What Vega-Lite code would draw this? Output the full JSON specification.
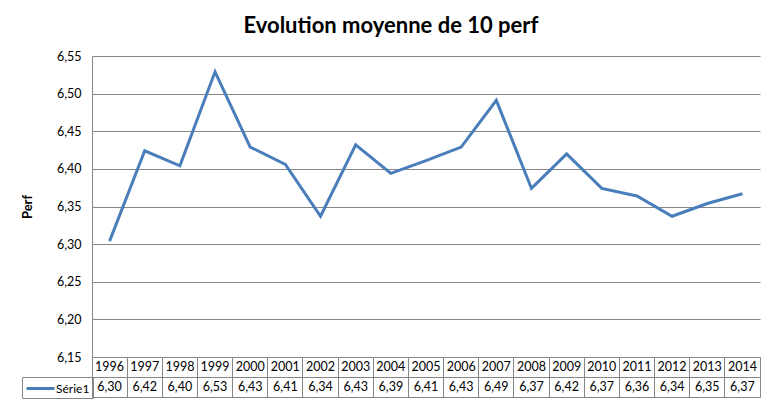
{
  "$schema": "https://vega.github.io/schema/vega-lite/v6.json",
  "background": "white",
  "padding": {"left": 21, "top": 15, "right": 14, "bottom": 6},
  "spacing": 0,
  "bounds": "flush",
  "title": {"text": "Evolution moyenne de 10 perf", "font": "Lato", "fontSize": 22, "fontWeight": "bold", "color": "#000000", "anchor": "middle", "frame": "bounds", "offset": 12},
  "config": {
    "locale": {"number": {"decimal": ",", "thousands": "\u00a0", "grouping": [3], "currency": ["", " €"]}},
    "font": "Lato",
    "legend": {"orient": "none", "legendX": -70, "legendY": 321, "title": null, "symbolType": "M-1,0H3", "symbolStrokeWidth": 3, "symbolSize": 196, "labelFont": "Lato", "labelFontSize": 12, "labelColor": "#000000", "padding": 3, "strokeColor": "#868686", "labelOffset": 14}
  },
  "data": {"values": [
    {"year": 1996, "perf": 6.304, "series": "Série1"},
    {"year": 1997, "perf": 6.424, "series": "Série1"},
    {"year": 1998, "perf": 6.404, "series": "Série1"},
    {"year": 1999, "perf": 6.529, "series": "Série1"},
    {"year": 2000, "perf": 6.429, "series": "Série1"},
    {"year": 2001, "perf": 6.406, "series": "Série1"},
    {"year": 2002, "perf": 6.337, "series": "Série1"},
    {"year": 2003, "perf": 6.432, "series": "Série1"},
    {"year": 2004, "perf": 6.394, "series": "Série1"},
    {"year": 2005, "perf": 6.411, "series": "Série1"},
    {"year": 2006, "perf": 6.429, "series": "Série1"},
    {"year": 2007, "perf": 6.491, "series": "Série1"},
    {"year": 2008, "perf": 6.374, "series": "Série1"},
    {"year": 2009, "perf": 6.42, "series": "Série1"},
    {"year": 2010, "perf": 6.374, "series": "Série1"},
    {"year": 2011, "perf": 6.364, "series": "Série1"},
    {"year": 2012, "perf": 6.337, "series": "Série1"},
    {"year": 2013, "perf": 6.354, "series": "Série1"},
    {"year": 2014, "perf": 6.367, "series": "Série1"}
  ]},
  "vconcat": [
    {
      "width": 668,
      "height": 301,
      "view": {"stroke": null},
      "mark": {"type": "line", "strokeWidth": 3},
      "encoding": {
        "x": {"field": "year", "type": "ordinal", "scale": {"type": "point", "padding": 0.5}, "axis": null},
        "y": {"field": "perf", "type": "quantitative",
          "scale": {"domain": [6.15, 6.55], "nice": false, "zero": false},
          "axis": {"values": [6.15, 6.2, 6.25, 6.3, 6.35, 6.4, 6.45, 6.5, 6.55], "format": ".2f", "title": "Perf",
            "titleFont": "Lato", "titleFontSize": 13, "titleFontWeight": "bold", "titleColor": "#000000", "titlePadding": 22,
            "labelFont": "Lato", "labelFontSize": 12.5, "labelColor": "#000000", "labelPadding": 11,
            "ticks": false, "domain": true, "domainColor": "#868686", "grid": true, "gridColor": "#868686", "gridOpacity": 1, "gridWidth": 1}},
        "color": {"field": "series", "type": "nominal", "scale": {"range": ["#4a7ebb"]}}
      }
    },
    {
      "width": 668,
      "height": 40,
      "view": {"stroke": "#868686"},
      "encoding": {
        "x": {"field": "year", "type": "ordinal", "scale": {"type": "band", "paddingInner": 0, "paddingOuter": 0},
          "axis": {"labels": false, "ticks": false, "domain": false, "grid": true, "bandPosition": 0, "gridColor": "#868686", "gridOpacity": 1, "title": null}}
      },
      "layer": [
        {
          "mark": {"type": "text", "font": "Lato", "fontSize": 12.5, "color": "#000000"},
          "encoding": {
            "y": {"datum": "an", "type": "ordinal", "scale": {"type": "band", "domain": ["an", "val"], "paddingInner": 0, "paddingOuter": 0},
              "axis": {"labels": false, "ticks": false, "domain": false, "grid": true, "bandPosition": 0, "gridColor": "#868686", "gridOpacity": 1, "title": null}},
            "text": {"field": "year", "type": "ordinal"}
          }
        },
        {
          "mark": {"type": "text", "font": "Lato", "fontSize": 12.5, "color": "#000000"},
          "encoding": {
            "y": {"datum": "val", "type": "ordinal"},
            "text": {"field": "perf", "type": "quantitative", "format": ".2f"}
          }
        }
      ]
    }
  ]
}
